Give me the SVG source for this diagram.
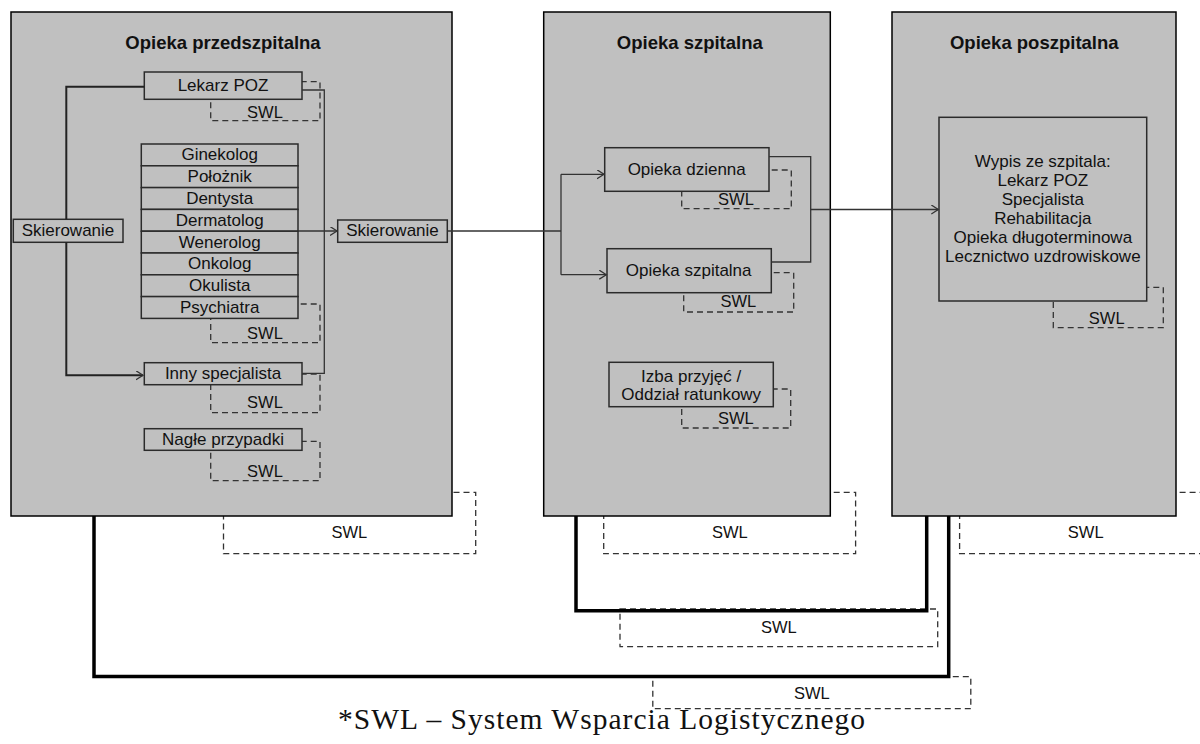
<svg xmlns="http://www.w3.org/2000/svg" width="1200" height="744" viewBox="0 0 1200 744">
<defs>
<style>
.panel{fill:#c0c0c0;stroke:#000;stroke-width:1.5}
.box{fill:#c0c0c0;stroke:#2b2b2b;stroke-width:1.5}
.swl{fill:none;stroke:#333;stroke-width:1.3;stroke-dasharray:6 4}
.t{font-family:"Liberation Sans",Arial,sans-serif;font-size:17px;fill:#111;text-anchor:middle}
.s{font-size:16.5px}
.h{font-weight:bold;font-size:18.5px}
.c{fill:none;stroke:#333;stroke-width:1.3}
.c2{fill:none;stroke:#222;stroke-width:2}
.thick{fill:none;stroke:#000;stroke-width:3.5}
.foot{font-family:"Liberation Serif","Times New Roman",serif;font-size:29.5px;fill:#111}
</style>
<marker id="arr" markerUnits="userSpaceOnUse" markerWidth="10" markerHeight="12" refX="7" refY="4.5" orient="auto">
<path d="M0,0 L7,4.5 L0,9" fill="none" stroke="#333" stroke-width="1.3"/>
</marker>
</defs>
<rect width="1200" height="744" fill="#fff"/>

<g id="panel-pre">
<rect class="swl" x="223.5" y="492.3" width="252.2" height="61.4"/>
<rect class="panel" x="11" y="12" width="441" height="504"/>
<text class="t h" x="223" y="48.5">Opieka przedszpitalna</text>
<text class="t s" x="349.4" y="538.3">SWL</text>
</g>
<g id="panel-szp">
<rect class="swl" x="603.7" y="492.3" width="251.9" height="61.4"/>
<rect class="panel" x="543.7" y="12" width="286.6" height="504"/>
<text class="t h" x="689.8" y="48.5">Opieka szpitalna</text>
<text class="t s" x="729.9" y="538.3">SWL</text>
</g>
<g id="panel-post">
<rect class="swl" x="959.6" y="492.3" width="252" height="61.4"/>
<rect class="panel" x="892" y="12" width="284" height="504"/>
<text class="t h" x="1034.3" y="48.5">Opieka poszpitalna</text>
<text class="t s" x="1085.7" y="538.3">SWL</text>
</g>

<g id="lekarz-poz">
<rect class="swl" x="210.7" y="81.7" width="109.3" height="39"/>
<rect class="box" x="144.3" y="72" width="157.7" height="27.3"/>
<text class="t" x="223" y="91">Lekarz POZ</text>
<text class="t s" x="265" y="118">SWL</text>
</g>

<g id="specjalisci">
<rect class="swl" x="210.7" y="304" width="109.3" height="38.7"/>
<rect class="box" x="141.3" y="144" width="156.7" height="21.8"/>
<rect class="box" x="141.3" y="165.8" width="156.7" height="21.8"/>
<rect class="box" x="141.3" y="187.6" width="156.7" height="21.8"/>
<rect class="box" x="141.3" y="209.4" width="156.7" height="21.8"/>
<rect class="box" x="141.3" y="231.2" width="156.7" height="21.8"/>
<rect class="box" x="141.3" y="253" width="156.7" height="21.8"/>
<rect class="box" x="141.3" y="274.8" width="156.7" height="21.8"/>
<rect class="box" x="141.3" y="296.6" width="156.7" height="21.8"/>
<text class="t" x="219.7" y="160.3">Ginekolog</text>
<text class="t" x="219.7" y="182.1">Położnik</text>
<text class="t" x="219.7" y="203.9">Dentysta</text>
<text class="t" x="219.7" y="225.7">Dermatolog</text>
<text class="t" x="219.7" y="247.5">Wenerolog</text>
<text class="t" x="219.7" y="269.3">Onkolog</text>
<text class="t" x="219.7" y="291.1">Okulista</text>
<text class="t" x="219.7" y="312.9">Psychiatra</text>
<text class="t s" x="265" y="339.3">SWL</text>
</g>

<g id="skierowanie-1">
<rect class="box" x="13.3" y="219.3" width="109.7" height="23"/>
<text class="t" x="68" y="235.7">Skierowanie</text>
</g>

<g id="inny-specjalista">
<rect class="swl" x="210.7" y="374" width="109.3" height="38.7"/>
<rect class="box" x="144.3" y="362.7" width="157.7" height="22"/>
<text class="t" x="223" y="379.3">Inny specjalista</text>
<text class="t s" x="265" y="407.7">SWL</text>
</g>

<g id="nagle-przypadki">
<rect class="swl" x="210.7" y="441.3" width="109.3" height="39.4"/>
<rect class="box" x="144.3" y="428.7" width="157.7" height="21.6"/>
<text class="t" x="223" y="445">Nagłe przypadki</text>
<text class="t s" x="265" y="477.3">SWL</text>
</g>

<g id="skierowanie-2">
<rect class="box" x="337.7" y="220" width="109.6" height="22.3"/>
<text class="t" x="392.5" y="235.7">Skierowanie</text>
</g>

<g id="opieka-dzienna">
<rect class="swl" x="681.7" y="170" width="109.6" height="38.7"/>
<rect class="box" x="604.7" y="147.7" width="164.3" height="43.6"/>
<text class="t" x="686.7" y="175">Opieka dzienna</text>
<text class="t s" x="736" y="205.3">SWL</text>
</g>

<g id="opieka-szpitalna">
<rect class="swl" x="683.7" y="272.7" width="110" height="39.3"/>
<rect class="box" x="607" y="248.7" width="164.3" height="44"/>
<text class="t" x="688.7" y="276">Opieka szpitalna</text>
<text class="t s" x="738.3" y="307.3">SWL</text>
</g>

<g id="izba-przyjec">
<rect class="swl" x="681.7" y="389" width="109" height="39"/>
<rect class="box" x="609" y="362.3" width="164.3" height="44.4"/>
<text class="t" x="691.2" y="382.3">Izba przyjęć /</text>
<text class="t" x="691.2" y="400">Oddział ratunkowy</text>
<text class="t s" x="735.8" y="424">SWL</text>
</g>

<g id="wypis">
<rect class="swl" x="1053.3" y="287.3" width="110" height="40.4"/>
<rect class="box" x="939" y="117.3" width="207.7" height="183.7"/>
<text class="t" x="1042.8" y="166.7">Wypis ze szpitala:</text>
<text class="t" x="1042.8" y="185.7">Lekarz POZ</text>
<text class="t" x="1042.8" y="204.7">Specjalista</text>
<text class="t" x="1042.8" y="223.7">Rehabilitacja</text>
<text class="t" x="1042.8" y="242.7">Opieka długoterminowa</text>
<text class="t" x="1042.8" y="261.7">Lecznictwo uzdrowiskowe</text>
<text class="t s" x="1106.7" y="324">SWL</text>
</g>

<g id="swl-links">
<rect class="swl" x="620" y="609" width="317.7" height="37.7"/>
<text class="t s" x="778.8" y="632.7">SWL</text>
<rect class="swl" x="652.8" y="676.7" width="318" height="32"/>
<text class="t s" x="811.9" y="698.5">SWL</text>
</g>

<g id="connectors">
<path class="c2" d="M66.3,219.3 V86.7 H144.3"/>
<path class="c2" d="M66.3,242.3 V375.3 H143" marker-end="url(#arr)"/>
<path class="c" d="M302,90 H324.3 V373.3 H302"/>
<path class="c" d="M298,231 H337" marker-end="url(#arr)"/>
<path class="c" d="M447.3,231 H561"/>
<path class="c" d="M561,174.3 V274.7"/>
<path class="c" d="M561,174.3 H604" marker-end="url(#arr)"/>
<path class="c" d="M561,274.7 H606.3" marker-end="url(#arr)"/>
<path class="c" d="M769,156.7 H810.7 V262 H771.3"/>
<path class="c" d="M810.7,209.5 H938.3" marker-end="url(#arr)"/>
<path class="thick" d="M94,516 V676.5 H948.7 V516"/>
<path class="thick" d="M576,516 V610.7 H926.7 V516"/>
</g>

<text class="foot" x="338" y="729" textLength="527" lengthAdjust="spacing">*SWL – System Wsparcia Logistycznego</text>
</svg>
